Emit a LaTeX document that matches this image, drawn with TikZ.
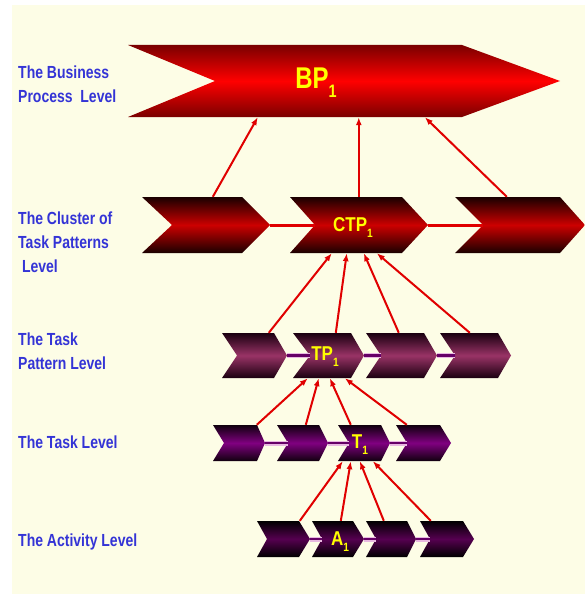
\documentclass[tikz,border=0pt]{standalone}
\usepackage{fontspec}
\usepackage{graphicx}
\setmainfont{Liberation Sans}
\usetikzlibrary{calc,fit,arrows.meta}

\definecolor{bgc}{HTML}{FDFDE6}
\definecolor{lblue}{HTML}{3434D6}
\definecolor{yel}{HTML}{FFFF00}
\definecolor{arrc}{HTML}{E00000}
\definecolor{bpdark}{HTML}{7A0000}
\definecolor{bpred}{HTML}{FF0000}
\definecolor{ctpdark}{HTML}{1A0000}
\definecolor{ctpred}{HTML}{CC0000}
\definecolor{tpdark}{HTML}{1A0010}
\definecolor{tpmid}{HTML}{993366}
\definecolor{tkdark}{HTML}{10000E}
\definecolor{tkmid}{HTML}{800080}
\definecolor{acdark}{HTML}{000000}
\definecolor{acmid}{HTML}{560050}
\definecolor{linkpink}{HTML}{E8B8E0}
\definecolor{linkpur}{HTML}{660066}

\newcommand\chev[8]{%
  \path[#2] (#3,#4) -- (#5,#4) -- (#6,{(#4+#7)/2}) -- (#5,#7) -- (#3,#7) -- (#8,{(#4+#7)/2}) -- cycle;
  \node[fit={(#3,#4) (#6,#7)}, inner sep=0pt] (#1) {};
}
\newcommand\lvtxt[1]{\scalebox{1}[1.25]{#1}}
\newcommand\subone[1]{\raisebox{-0.3em}{\fontsize{#1}{#1}\selectfont 1}}

\tikzset{
  bpshade/.style={top color=bpdark, bottom color=bpdark, middle color=bpred},
  ctpshade/.style={top color=ctpdark, bottom color=ctpdark, middle color=ctpred},
  tpshade/.style={top color=tpdark, bottom color=tpdark, middle color=tpmid},
  tkshade/.style={top color=tkdark, bottom color=tkdark, middle color=tkmid},
  acshade/.style={top color=acdark, bottom color=acdark, middle color=acmid},
  levellabel/.style={anchor=west, text=lblue, align=left, inner sep=0pt,
    font=\bfseries\fontsize{14}{24}\selectfont},
  inlabel/.style={text=yel, inner sep=0pt, font=\bfseries},
  arrw/.style={draw=arrc, line width=2pt, -{Latex[length=8pt,width=6pt]}},
  redlink/.style={draw=arrc, line width=3pt},
  purlink/.style={draw=linkpink, double=linkpur, double distance=2.4pt, line width=1.3pt}
}

\begin{document}
\begin{tikzpicture}[x=1pt,y=-1pt]
\useasboundingbox (0,0) rectangle (585,594);
\fill[bgc] (12,5) rectangle (585,594);

% Business process level
\chev{bp}{bpshade}{128}{45}{462}{560}{117}{215}
\node[inlabel, font=\bfseries\fontsize{30}{30}\selectfont] (bpt) at (316,83) {\scalebox{0.8}[1]{BP\subone{18}}};

% Cluster of task patterns level
\chev{ca}{ctpshade}{142}{197}{242}{270}{253}{172}
\chev{cb}{ctpshade}{290}{197}{402}{428}{253}{315}
\chev{cc}{ctpshade}{455}{197}{560}{585}{253}{483}
\node[inlabel, font=\bfseries\fontsize{20}{20}\selectfont] (cbt) at (353,228) {\scalebox{0.85}[1]{CTP\subone{12}}};
\draw[redlink] (ca.east) -- ($(cb.west)+(25,0)$);
\draw[redlink] (cb.east) -- ($(cc.west)+(28,0)$);

% Task pattern level
\chev{pa}{tpshade}{222}{333}{274}{287}{378}{237}
\chev{pb}{tpshade}{293}{333}{351}{364}{378}{310}
\chev{pc}{tpshade}{366}{333}{424}{437}{378}{381}
\chev{pd}{tpshade}{440}{333}{498}{511}{378}{455}
\node[inlabel, font=\bfseries\fontsize{20}{20}\selectfont] (pbt) at (325,357) {\scalebox{0.85}[1]{TP\subone{12}}};
\draw[purlink] (pa.east) -- ($(pb.west)+(17,0)$);
\draw[purlink] (pb.east) -- ($(pc.west)+(15,0)$);
\draw[purlink] (pc.east) -- ($(pd.west)+(15,0)$);

% Task level
\chev{ta}{tkshade}{213}{425}{257}{265}{461}{224}
\chev{tb}{tkshade}{277}{425}{319}{328}{461}{288}
\chev{tc}{tkshade}{338}{425}{381}{390}{461}{349}
\chev{td}{tkshade}{396}{425}{440}{451}{461}{407}
\node[inlabel, font=\bfseries\fontsize{20}{20}\selectfont] (tct) at (360,445) {\scalebox{0.85}[1]{T\subone{12}}};
\draw[purlink] (ta.east) -- ($(tb.west)+(11,0)$);
\draw[purlink] (tb.east) -- ($(tc.west)+(11,0)$);
\draw[purlink] (tc.east) -- ($(td.west)+(11,0)$);

% Activity level
\chev{aa}{acshade}{257}{521}{299}{310}{557}{267}
\chev{ab}{acshade}{312}{521}{353}{364}{557}{322}
\chev{ac}{acshade}{366}{521}{407}{416}{557}{376}
\chev{ad}{acshade}{420}{521}{463}{474}{557}{430}
\node[inlabel, font=\bfseries\fontsize{20}{20}\selectfont] (abt) at (340,542) {\scalebox{0.85}[1]{A\subone{12}}};
\draw[purlink] (aa.east) -- ($(ab.west)+(10,0)$);
\draw[purlink] (ab.east) -- ($(ac.west)+(10,0)$);
\draw[purlink] (ac.east) -- ($(ad.west)+(10,0)$);

% Arrows CTP -> BP
\draw[arrw] ($(ca.north west)+(71,0)$) -- ($(bp.south west)+(130,0)$);
\draw[arrw] ($(cb.north west)+(69,0)$) -- ($(bp.south west)+(231,0)$);
\draw[arrw] ($(cc.north west)+(52,0)$) -- ($(bp.south west)+(297,0)$);

% Arrows TP -> CTP1
\draw[arrw] ($(pa.north west)+(47,0)$) -- ($(cb.south west)+(42,0)$);
\draw[arrw] ($(pb.north west)+(43,0)$) -- ($(cb.south west)+(57,0)$);
\draw[arrw] ($(pc.north west)+(33,0)$) -- ($(cb.south west)+(74,0)$);
\draw[arrw] ($(pd.north west)+(30,0)$) -- ($(cb.south west)+(87,0)$);

% Arrows T -> TP1
\draw[arrw] ($(ta.north west)+(44,0)$) -- ($(pb.south west)+(15,0)$);
\draw[arrw] ($(tb.north west)+(29,0)$) -- ($(pb.south west)+(26,0)$);
\draw[arrw] ($(tc.north west)+(13,0)$) -- ($(pb.south west)+(37,0)$);
\draw[arrw] ($(td.north west)+(11,0)$) -- ($(pb.south west)+(52,0)$);

% Arrows A -> T1
\draw[arrw] ($(aa.north west)+(43,0)$) -- ($(tc.south west)+(5,0)$);
\draw[arrw] ($(ab.north west)+(29,0)$) -- ($(tc.south west)+(13,0)$);
\draw[arrw] ($(ac.north west)+(18,0)$) -- ($(tc.south west)+(22,0)$);
\draw[arrw] ($(ad.north west)+(11,0)$) -- ($(tc.south west)+(35,0)$);

% Level labels
\node[levellabel] (l1) at (18,84) {\lvtxt{The Business}\\\lvtxt{Process~~Level}};
\node[levellabel] (l2) at (18,242) {\lvtxt{The Cluster of}\\\lvtxt{Task Patterns}\\\lvtxt{~Level}};
\node[levellabel] (l3) at (18,351) {\lvtxt{The Task}\\\lvtxt{Pattern Level}};
\node[levellabel] (l4) at (18,442) {\lvtxt{The Task Level}};
\node[levellabel] (l5) at (18,542) {\lvtxt{The Activity Level}};
\end{tikzpicture}
\end{document}
